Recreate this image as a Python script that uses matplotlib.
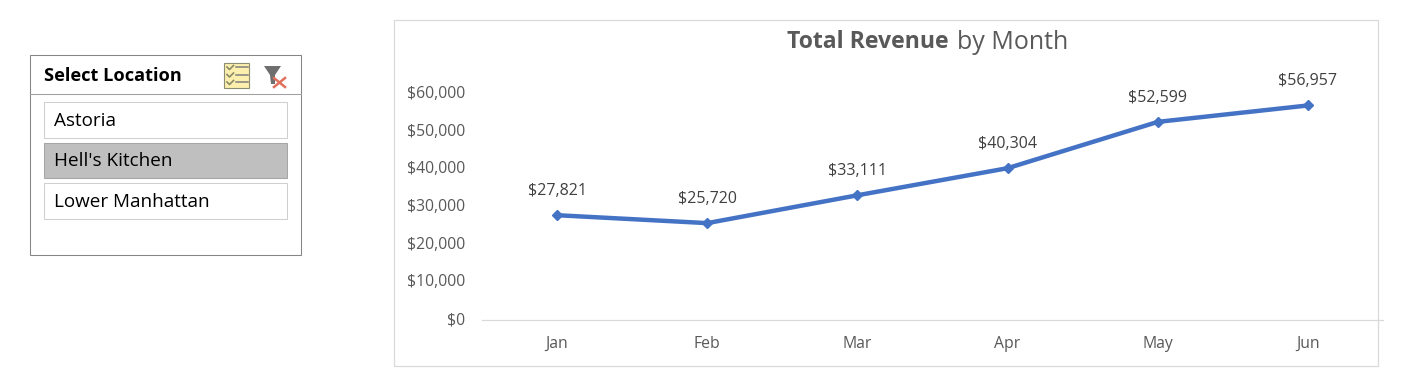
import matplotlib
matplotlib.use("Agg")
import matplotlib.pyplot as plt
from matplotlib.patches import Rectangle, Polygon
from matplotlib.transforms import ScaledTranslation

months = ["Jan", "Feb", "Mar", "Apr", "May", "Jun"]
revenue = [27821, 25720, 33111, 40304, 52599, 56957]
yticks = [0, 10000, 20000, 30000, 40000, 50000, 60000]
locations = ["Astoria", "Hell's Kitchen", "Lower Manhattan"]
selected = "Hell's Kitchen"

W, H = 1417, 385
plt.rcParams['font.family'] = ['Open Sans', 'DejaVu Sans']

fig = plt.figure(figsize=(W / 100, H / 100), dpi=100)

# background layer in pixel coords, for the slicer and chart frame
bg = fig.add_axes([0, 0, 1, 1])
bg.set_xlim(0, W)
bg.set_ylim(H, 0)
bg.axis("off")

bg.add_patch(Rectangle((393.5, 19.5), 984, 346, fc="white", ec="#d9d9d9", lw=0.9))

# slicer
bg.add_patch(Rectangle((30, 55), 271, 200, fc="white", ec="#858585", lw=0.75))
bg.plot([30, 301], [94, 94], color="#a0a0a0", lw=0.75)
bg.text(44, 76, "Select Location", fontsize=13.1, fontweight="bold", color="black", va="center")

row_y = [102, 143, 183]
row_h = [36, 35, 36]
for name, y, h in zip(locations, row_y, row_h):
    if name == selected:
        bg.add_patch(Rectangle((44, y), 243, h, fc="#bfbfbf", ec="#a6a6a6", lw=0.75))
    else:
        bg.add_patch(Rectangle((44, y), 243, h, fc="white", ec="#cfcfcf", lw=0.75))
    bg.text(54, y + h / 2 + 1, name, fontsize=13.6, color="black", va="center")

# multi-select icon
bg.add_patch(Rectangle((224, 63), 25, 25, fc="#fdf0ae", ec="#8c8c70", lw=0.8))
for y in [68, 75.5, 83]:
    bg.plot([227, 229.5, 233.5], [y - 1, y + 1.5, y - 2.5], color="#8a8a68", lw=1.2)
    bg.plot([236, 248], [y - 1, y - 1], color="#808080", lw=1.1)

# clear-filter icon
bg.add_patch(Polygon([(264, 66), (281, 66), (275, 75), (275, 84), (271, 84), (270, 75)], fc="#6e6e6e", ec="none"))
bg.plot([274, 285], [78, 87], color="#e0705c", lw=1.8)
bg.plot([285, 274], [78, 87], color="#e0705c", lw=1.8)

# title
bg.text(787, 42.5, "Total Revenue", fontsize=16.6, fontweight="bold", color="#595959", va="center", ha="left")
bg.text(957, 42.5, "by Month", fontsize=18, color="#595959", va="center", ha="left")

# line chart
left, right, top, bottom = 482, 1383, 94, 320
ax = fig.add_axes([left / W, 1 - bottom / H, (right - left) / W, (bottom - top) / H])
ax.patch.set_alpha(0)
ax.set_xlim(-0.5, 5.5)
ax.set_ylim(0, 60000)

x = list(range(len(months)))
ax.plot(x, revenue, color="#4472c4", lw=3.2, marker="D", ms=5, solid_capstyle="round", clip_on=False)
for i, v in zip(x, revenue):
    ax.annotate("${:,}".format(v), (i, v), xytext=(0, 11.5), textcoords="offset points",
                ha="center", va="bottom", fontsize=11.5, color="#404040")

ax.set_xticks(x)
ax.set_xticklabels(months)
ax.set_yticks(yticks)
ax.set_yticklabels(["${:,}".format(t) for t in yticks])
ax.tick_params(axis="both", length=0, labelsize=11.3, labelcolor="#595959")
ax.tick_params(axis="x", pad=11.3)
ax.tick_params(axis="y", pad=12.2)
shift = ScaledTranslation(0, 2 / 100, fig.dpi_scale_trans)
for lab in ax.get_yticklabels():
    lab.set_transform(lab.get_transform() + shift)
for s in ["top", "left", "right"]:
    ax.spines[s].set_visible(False)
ax.spines["bottom"].set_color("#d9d9d9")
ax.spines["bottom"].set_linewidth(0.9)

fig.savefig("out.png", dpi=100)
